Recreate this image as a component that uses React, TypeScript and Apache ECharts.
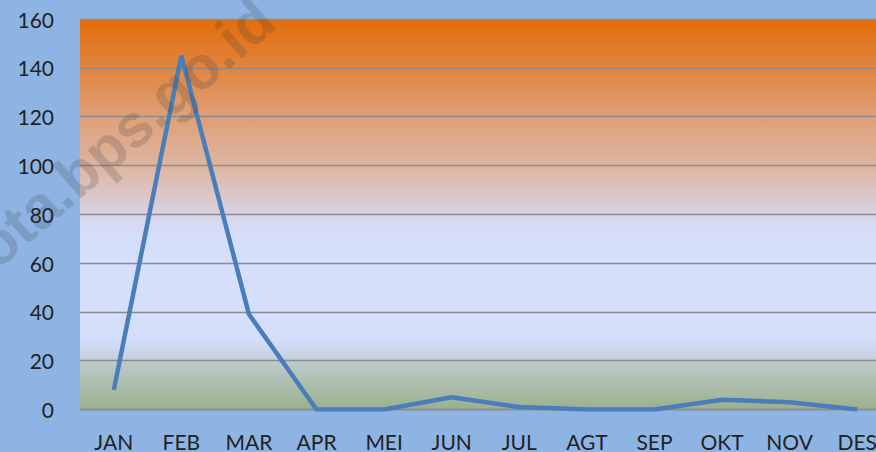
import React, { useEffect, useRef } from "react";
import * as echarts from "echarts";

const months = ["JAN", "FEB", "MAR", "APR", "MEI", "JUN", "JUL", "AGT", "SEP", "OKT", "NOV", "DES"];
const values = [8, 145, 39, 0, 0, 5, 1, 0, 0, 4, 3, 0];
const yMin = 0;
const yMax = 160;
const yStep = 20;
const watermark = "kota.bps.go.id";

export default function App() {
  const ref = useRef<HTMLDivElement>(null);
  useEffect(() => {
    document.body.style.margin = "0";
    document.body.style.overflow = "hidden";
    if (!ref.current) return;
    const chart = echarts.init(ref.current, undefined, { renderer: "svg" });
    const font = "Lato, 'Liberation Sans', sans-serif";
    chart.setOption({
      animation: false,
      backgroundColor: "#8eb4e3",
      grid: {
        left: 80,
        top: 19,
        right: 0,
        height: 391,
        show: true,
        borderWidth: 0,
        backgroundColor: new echarts.graphic.LinearGradient(0, 0, 0, 1, [
          { offset: 0, color: "#e36c0a" },
          { offset: 0.125, color: "#e1843f" },
          { offset: 0.25, color: "#dea078" },
          { offset: 0.375, color: "#dcb5a0" },
          { offset: 0.46, color: "#dbc8cc" },
          { offset: 0.52, color: "#d6d8f2" },
          { offset: 0.56, color: "#d5defa" },
          { offset: 0.82, color: "#d5defa" },
          { offset: 0.86, color: "#c9d3e6" },
          { offset: 0.88, color: "#bccaca" },
          { offset: 1, color: "#9bb08e" },
        ]),
      },
      xAxis: {
        type: "category",
        data: months,
        boundaryGap: true,
        axisLine: { show: true, lineStyle: { color: "#8c8c8c", width: 1.3 } },
        axisTick: { show: false },
        axisLabel: { color: "#222", fontFamily: font, fontSize: 21, lineHeight: 20, margin: 22 },
      },
      yAxis: {
        type: "value",
        min: yMin,
        max: yMax,
        interval: yStep,
        axisLine: { show: false },
        axisTick: { show: false },
        axisLabel: { color: "#222", fontFamily: font, fontSize: 21, margin: 26 },
        splitLine: { show: true, lineStyle: { color: "#8c8c8c", width: 1.3 } },
      },
      series: [
        {
          type: "line",
          data: values,
          showSymbol: false,
          symbol: "none",
          lineStyle: { color: "#4a7ebb", width: 4.5 },
          z: 3,
        },
      ],
      graphic: [
        {
          type: "text",
          x: 112,
          y: 144,
          rotation: (41 * Math.PI) / 180,
          z: 100,
          silent: true,
          style: {
            text: watermark,
            fontFamily: "'Liberation Sans', Arial, sans-serif",
            fontWeight: "bold",
            fontSize: 60,
            fill: "rgba(60,60,60,0.2)",
            textAlign: "center",
            textVerticalAlign: "middle",
          },
        },
      ],
    });
    return () => chart.dispose();
  }, []);
  return (
    <div style={{ width: 876, height: 452, overflow: "hidden" }}>
      <div ref={ref} style={{ width: 891, height: 452 }} />
    </div>
  );
}
